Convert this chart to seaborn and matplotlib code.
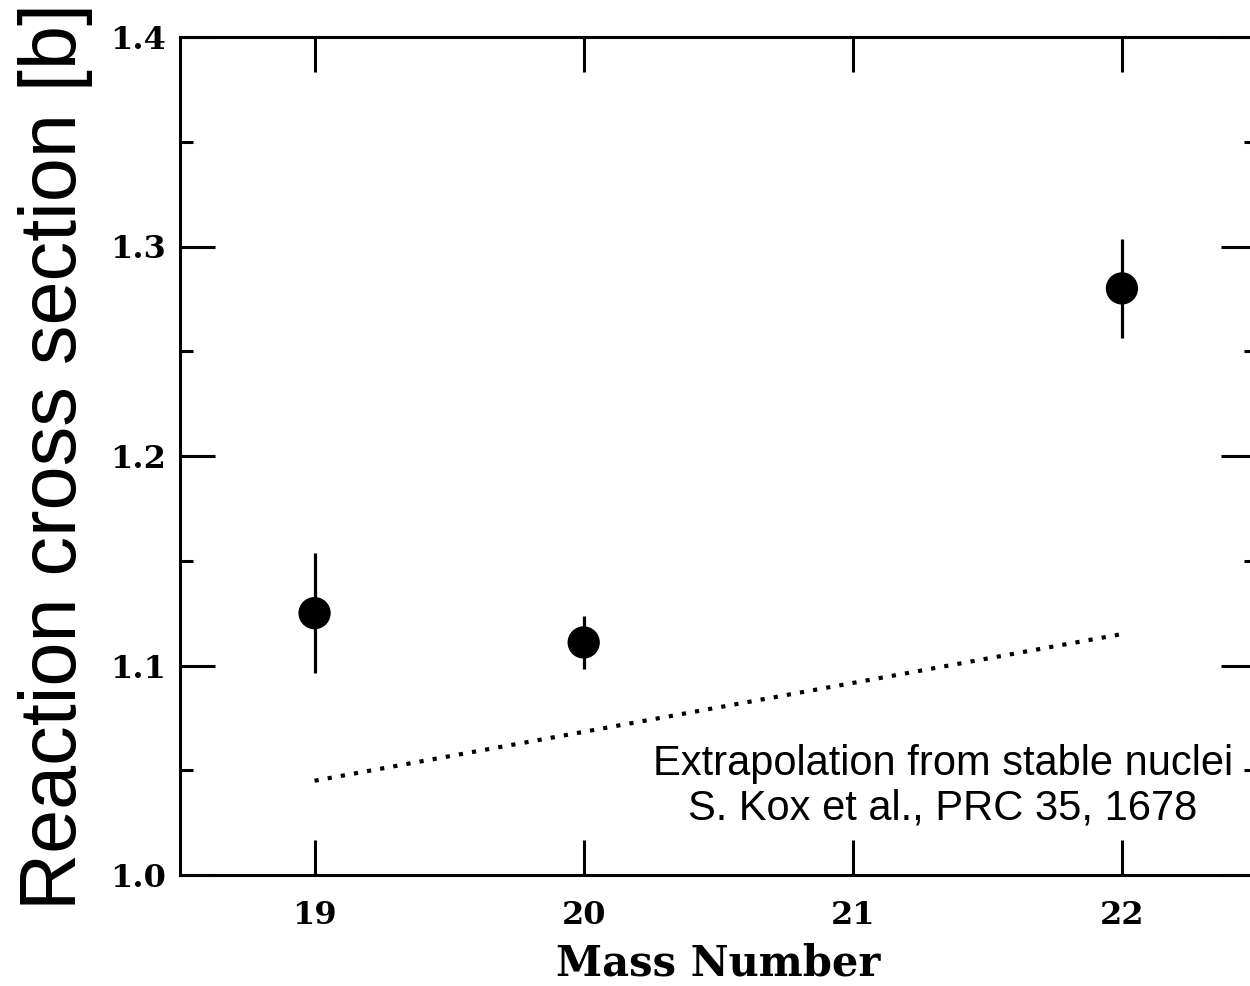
import numpy as np
import pandas as pd
import matplotlib
matplotlib.use("Agg")
import matplotlib.pyplot as plt
from matplotlib.ticker import MultipleLocator
import seaborn as sns

# measured reaction cross sections
mass_number = [19, 20, 22]
cross_section = [1.125, 1.111, 1.280]
cross_error = [0.0288, 0.0125, 0.0238]

# extrapolation from stable nuclei (Kox et al.)
extrap_mass = [19, 22]
extrap_sigma = [1.045, 1.115]

x_ticks = [19, 20, 21, 22]
y_ticks = [1.0, 1.1, 1.2, 1.3, 1.4]

sns.set_style("ticks", {"axes.edgecolor": "black", "xtick.color": "black",
                        "ytick.color": "black", "text.color": "black",
                        "axes.labelcolor": "black"})

df = pd.DataFrame({"mass": mass_number, "sigma": cross_section, "err": cross_error})
df_ext = pd.DataFrame({"mass": extrap_mass, "sigma": extrap_sigma})

fig = plt.figure(figsize=(12.5, 9.86), dpi=100)
ax = fig.add_axes([180 / 1250, 111 / 986, 1076.5 / 1250, 838 / 986])

# error bars first, then the filled markers
ax.errorbar(df["mass"], df["sigma"], yerr=df["err"], fmt="none",
            ecolor="black", elinewidth=2.3, capsize=0)
sns.scatterplot(data=df, x="mass", y="sigma", ax=ax, color="black",
                s=540, edgecolor="none", zorder=3)

sns.lineplot(data=df_ext, x="mass", y="sigma", ax=ax, color="black",
             linewidth=3.0, linestyle=(0, (1, 2.2)))

ax.set_xlim(18.5, 22.5)
ax.set_ylim(1.0, 1.4)
ax.set_xticks(x_ticks)
ax.set_yticks(y_ticks)
ax.yaxis.set_minor_locator(MultipleLocator(0.05))
ax.set_xticklabels([str(v) for v in x_ticks])
ax.set_yticklabels([f"{v:.1f}" for v in y_ticks])

ax.tick_params(which="both", direction="in", top=True, right=True, width=2.2,
               labelsize=23, colors="black")
ax.tick_params(axis="x", pad=18)
ax.tick_params(axis="y", pad=10)
ax.tick_params(which="major", length=25)
ax.tick_params(which="minor", length=9)
for lab in ax.get_xticklabels() + ax.get_yticklabels():
    lab.set_family("DejaVu Serif")
    lab.set_fontweight("semibold")
for sp in ax.spines.values():
    sp.set_linewidth(2.2)
    sp.set_color("black")

ax.set_xlabel("Mass Number", family="DejaVu Serif", fontweight="bold",
              fontsize=30, labelpad=8, color="black")
ax.set_ylabel("Reaction cross section [b]", family="Liberation Sans",
              fontsize=57, labelpad=12, color="black")

ax.text(21.335, 1.0425, "Extrapolation from stable nuclei\nS. Kox et al., PRC 35, 1678",
        ha="center", va="center", family="Liberation Sans", fontsize=30,
        linespacing=1.15, color="black")

fig.savefig("out.png", dpi=100)
